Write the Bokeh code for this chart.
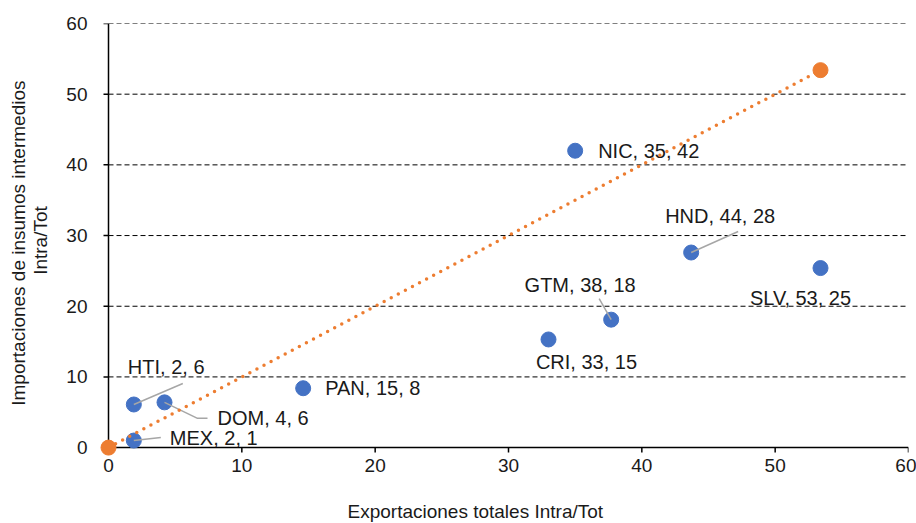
from bokeh.plotting import figure
from bokeh.models import ColumnDataSource, FixedTicker, Range1d, Title
from bokeh.core.properties import value
from bokeh.embed import file_html
from bokeh.resources import INLINE

# ---- data ----
countries = ["NIC", "HND", "SLV", "GTM", "CRI", "PAN", "HTI", "DOM", "MEX"]
exports = [35.0, 43.7, 53.4, 37.7, 33.0, 14.6, 1.9, 4.2, 1.9]
imports = [42.0, 27.6, 25.4, 18.1, 15.3, 8.4, 6.1, 6.4, 1.0]
diag_x = [0.0, 53.4]
diag_y = [0.0, 53.4]
tick_values = [0, 10, 20, 30, 40, 50, 60]
x_title = "Exportaciones totales Intra/Tot"
y_title = "Importaciones de  insumos intermedios\nIntra/Tot"

# ---- layout / style ----
W, H = 916, 523
BL, BR, BT, BB = 98, 8, 23, 66
XR = (-0.75, 60)
YR = (-1.4, 60)
FONT = "Liberation Sans"
FS = "19px"
FS_LAB = "20px"
TXT = "#1a1a1a"
BLUE = "#4472C4"
ORANGE = "#ED7D31"
GREY = "#A6A6A6"
TICK_PX = 5

px_x = (W - BL - BR) / (XR[1] - XR[0])
px_y = (H - BT - BB) / (YR[1] - YR[0])

# label placement (pixel offsets from point, screen y downward)
label_off = {
    "NIC": (23, 0, "left"),
    "HND": (29, -37, "center"),
    "SLV": (-20, 30, "center"),
    "GTM": (-31, -35, "center"),
    "CRI": (38, 23, "center"),
    "PAN": (22, 0, "left"),
    "HTI": (-6, -37, "left"),
    "DOM": (53, 16, "left"),
    "MEX": (36, -3, "left"),
}
leaders = {
    "HND": [(47, -21)],
    "GTM": [(-12, -21)],
    "HTI": [(49, -21)],
    "DOM": [(33, 16), (43, 16)],
    "MEX": [(27, -3)],
}

p = figure(width=W, height=H, x_range=Range1d(*XR), y_range=Range1d(*YR),
           output_backend="svg", toolbar_location=None,
           min_border_left=BL, min_border_right=BR, min_border_top=BT,
           min_border_bottom=BB)
p.outline_line_color = None
p.background_fill_color = "white"
p.border_fill_color = "white"
p.xgrid.visible = False
p.ygrid.visible = False

for ax in (p.xaxis[0], p.yaxis[0]):
    ax.ticker = FixedTicker(ticks=tick_values)
    ax.axis_line_color = None
    ax.major_tick_line_color = None
    ax.minor_tick_line_color = None
    ax.major_label_text_font = FONT
    ax.major_label_text_font_size = FS
    ax.major_label_text_color = TXT
p.xaxis.major_label_standoff = -5
p.yaxis.major_label_standoff = 5

ya = p.yaxis[0]
ya.axis_label = y_title
ya.axis_label_text_font = FONT
ya.axis_label_text_font_size = FS
ya.axis_label_text_font_style = "normal"
ya.axis_label_text_color = TXT
ya.axis_label_text_line_height = 1.05
ya.axis_label_standoff = 12

t0, t1 = tick_values[0], tick_values[-1]
# gridlines
gy = tick_values[1:]
p.segment(x0=[t0] * len(gy), x1=[t1] * len(gy), y0=gy, y1=gy,
          line_color="#000000", line_width=1, line_dash="5 3")
# axis lines at zero
p.segment(x0=[t0, t0], y0=[t0, t0], x1=[t1, t0], y1=[t0, t1],
          line_color="#000000", line_width=1.5)
# tick marks (outside)
n = len(tick_values)
p.segment(x0=tick_values, x1=tick_values, y0=[t0] * n, y1=[t0 - TICK_PX / px_y] * n,
          line_color="#000000", line_width=1.5)
p.segment(x0=[t0] * n, x1=[t0 - TICK_PX / px_x] * n, y0=tick_values, y1=tick_values,
          line_color="#000000", line_width=1.5)

# x title (a blank spacer title pushes it down)
p.add_layout(Title(text=" ", text_font=FONT, text_font_size=FS, standoff=1), "below")
p.add_layout(Title(text=x_title, align="left", offset=249, text_font=FONT, text_font_size=FS,
                   text_font_style="normal", text_color=TXT, standoff=0), "below")

# blue points
src = ColumnDataSource(dict(
    x=exports, y=imports,
    label=[f"{c}, {round(x)}, {round(y)}" for c, x, y in zip(countries, exports, imports)],
    dx=[label_off[c][0] for c in countries],
    dy=[label_off[c][1] for c in countries],
    align=[label_off[c][2] for c in countries],
))
p.scatter("x", "y", source=src, size=15, fill_color=BLUE, line_color=BLUE)

# leader lines
lx, ly = [], []
for c, x, y in zip(countries, exports, imports):
    if c in leaders:
        xs = [x] + [x + dx / px_x for dx, dy in leaders[c]]
        ys = [y] + [y - dy / px_y for dx, dy in leaders[c]]
        lx.append(xs)
        ly.append(ys)
p.multi_line(lx, ly, line_color=GREY, line_width=1.5)

# labels
p.text("x", "y", text="label", source=src, x_offset="dx", y_offset="dy",
       text_align="align", text_baseline="middle", text_font=value(FONT),
       text_font_size=FS_LAB, text_color=TXT)

# orange diagonal
p.line(diag_x, diag_y, line_color=ORANGE, line_width=3.5, line_dash="0 8", line_cap="round")
p.scatter(diag_x, diag_y, size=15, fill_color=ORANGE, line_color=ORANGE)

open("out.html", "w").write(file_html(p, INLINE))
